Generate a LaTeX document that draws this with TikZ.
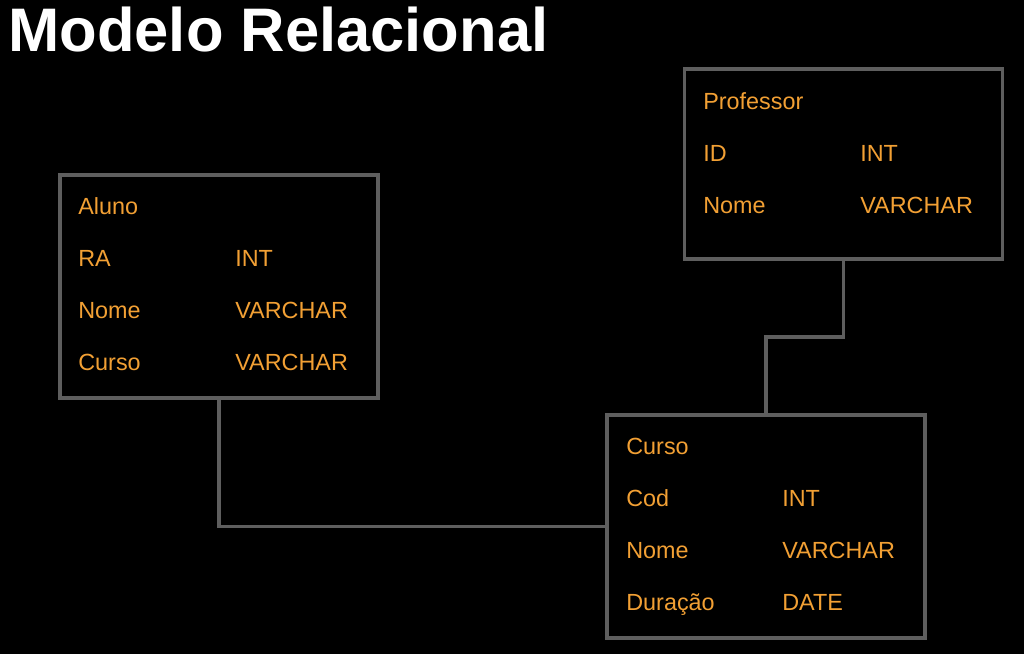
\documentclass[tikz,border=0pt]{standalone}
\usepackage{fontspec}
\setmainfont{Liberation Sans}
\usetikzlibrary{calc}
\definecolor{boxgray}{HTML}{5E5E5E}
\definecolor{fieldorange}{HTML}{F2A034}

\begin{document}
\begin{tikzpicture}[
    tablebox/.style={draw=boxgray,line width=2.2pt,minimum width=6.36cm,inner sep=0pt},
    field/.style={anchor=base west,inner sep=0pt,text=fieldorange,font=\fontsize{13.3}{16}\selectfont},
    link/.style={draw=boxgray,line width=2.2pt}
]
    % Draw the background
    \fill[black] (0,0) rectangle (20.48,-13.08);
    \useasboundingbox (0,0) rectangle (20.48,-13.08);

    % Title
    \node[anchor=base west,inner sep=0pt,text=white,font=\fontsize{35}{40}\bfseries] (title) at (0.16,-1.04) {Modelo Relacional};

    % Draw the tables
    \node[tablebox,minimum height=4.46cm] (aluno) at (4.38,-5.73) {};
    \node[tablebox,minimum height=3.8cm] (professor) at (16.87,-3.28) {};
    \node[tablebox,minimum height=4.46cm] (curso) at (15.32,-10.53) {};

    % Fields of Aluno
    \node[field] (alunoT) at (1.56,-4.30) {Aluno};
    \node[field] (alunoRA) at (1.56,-5.34) {RA};
    \node[field] (alunoRAt) at (4.70,-5.34) {INT};
    \node[field] (alunoNome) at (1.56,-6.38) {Nome};
    \node[field] (alunoNomet) at (4.70,-6.38) {VARCHAR};
    \node[field] (alunoCurso) at (1.56,-7.42) {Curso};
    \node[field] (alunoCursot) at (4.70,-7.42) {VARCHAR};

    % Fields of Professor
    \node[field] (profT) at (14.06,-2.19) {Professor};
    \node[field] (profID) at (14.06,-3.23) {ID};
    \node[field] (profIDt) at (17.20,-3.23) {INT};
    \node[field] (profNome) at (14.06,-4.27) {Nome};
    \node[field] (profNomet) at (17.20,-4.27) {VARCHAR};

    % Fields of Curso
    \node[field] (cursoT) at (12.52,-9.10) {Curso};
    \node[field] (cursoCod) at (12.52,-10.14) {Cod};
    \node[field] (cursoCodt) at (15.64,-10.14) {INT};
    \node[field] (cursoNome) at (12.52,-11.18) {Nome};
    \node[field] (cursoNomet) at (15.64,-11.18) {VARCHAR};
    \node[field] (cursoDur) at (12.52,-12.22) {Duração};
    \node[field] (cursoDurt) at (15.64,-12.22) {DATE};

    % Draw the relations
    \draw[link] (aluno.south) |- (curso.west);
    \draw[link] (professor.south) |- ($(professor.south)!.5!(curso.north)$) -| (curso.north);
\end{tikzpicture}
\end{document}
